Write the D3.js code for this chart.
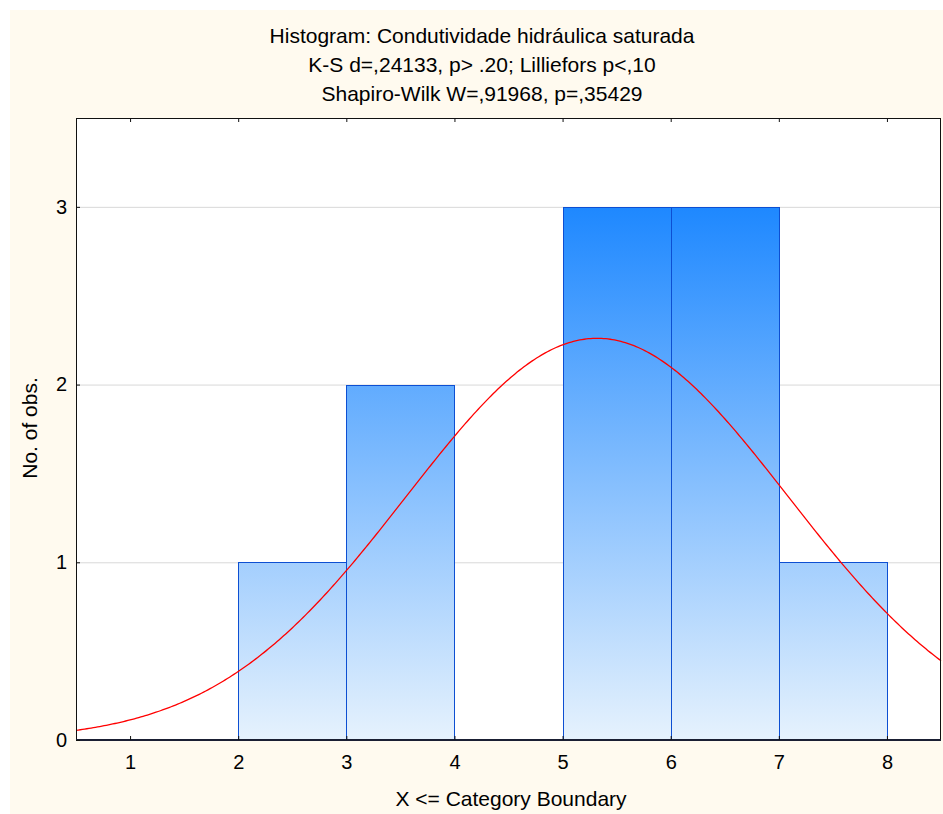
<!DOCTYPE html>
<html>
<head>
<meta charset="utf-8">
<script src="https://cdn.jsdelivr.net/npm/d3@7"></script>
<style>
  body { margin: 0; background: #fff; }
  svg { display: block; font-family: "Liberation Sans", Arial, sans-serif; }
</style>
</head>
<body>
<div id="chart"></div>
<script>
const width = 943;
const height = 814;
const margin = { top: 118, right: 2, bottom: 74, left: 76 };

// Histogram data: upper category boundaries and counts
const boundaries = [1, 2, 3, 4, 5, 6, 7, 8];
const counts = [0, 0, 1, 2, 0, 3, 3, 1]; // count for (b-1, b]
const xTicks = [1, 2, 3, 4, 5, 6, 7, 8];
const yTicks = [0, 1, 2, 3];
const titleLines = [
  "Histogram: Condutividade hidráulica saturada",
  "K-S d=,24133, p> .20; Lilliefors p<,10",
  "Shapiro-Wilk W=,91968, p=,35429"
];

// fitted normal (expected counts)
const fitMean = 5.32;
const fitSd = 1.765;
const nObs = 10;

const svg = d3.select("#chart")
  .append("svg")
  .attr("width", width)
  .attr("height", height);

// cream frame
svg.append("rect")
  .attr("x", 10).attr("y", 10)
  .attr("width", width - 10).attr("height", height - 10)
  .attr("fill", "#fffaef");

const x = d3.scaleLinear()
  .domain([0.5, 8.5])
  .range([margin.left, width - margin.right]);

const y = d3.scaleLinear()
  .domain([0, 3.5])
  .range([height - margin.bottom, margin.top]);

// plot area
svg.append("rect")
  .attr("x", x(0.5)).attr("y", y(3.5))
  .attr("width", x(8.5) - x(0.5))
  .attr("height", y(0) - y(3.5))
  .attr("fill", "#fff");

// gradient for bars
const grad = svg.append("defs").append("linearGradient")
  .attr("id", "barGrad")
  .attr("gradientUnits", "userSpaceOnUse")
  .attr("x1", 0).attr("x2", 0)
  .attr("y1", y(0)).attr("y2", y(3));
grad.append("stop").attr("offset", "0%").attr("stop-color", "#e6f2fd");
grad.append("stop").attr("offset", "100%").attr("stop-color", "#1e88ff");

// grid lines
svg.append("g")
  .selectAll("line")
  .data(yTicks.filter(d => d > 0))
  .join("line")
  .attr("x1", x(0.5)).attr("x2", x(8.5))
  .attr("y1", d => y(d) + 0.5).attr("y2", d => y(d) + 0.5)
  .attr("stroke", "#d9d9d9")
  .attr("stroke-width", 1);

// bars
const bins = boundaries.map((b, i) => ({ x0: b - 1, x1: b, n: counts[i] }))
  .filter(d => d.n > 0);

svg.append("g")
  .selectAll("rect")
  .data(bins)
  .join("rect")
  .attr("x", d => Math.round(x(d.x0)) + 0.5)
  .attr("y", d => Math.round(y(d.n)) + 0.5)
  .attr("width", d => Math.round(x(d.x1)) - Math.round(x(d.x0)))
  .attr("height", d => Math.round(y(0)) - Math.round(y(d.n)))
  .attr("fill", "url(#barGrad)")
  .attr("stroke", "#0d4fd2")
  .attr("stroke-width", 1);

// normal curve
const curveX = d3.range(0.5, 8.5001, 0.02);
const expected = t => nObs * 1 / (fitSd * Math.sqrt(2 * Math.PI)) *
  Math.exp(-0.5 * Math.pow((t - fitMean) / fitSd, 2));

svg.append("path")
  .datum(curveX)
  .attr("fill", "none")
  .attr("stroke", "#ff0000")
  .attr("stroke-width", 1.3)
  .attr("d", d3.line().x(d => x(d)).y(d => y(expected(d))));

// plot border
svg.append("rect")
  .attr("x", x(0.5) + 0.5).attr("y", y(3.5) + 0.5)
  .attr("width", x(8.5) - x(0.5) - 1)
  .attr("height", y(0) - y(3.5) - 1)
  .attr("fill", "none")
  .attr("stroke", "#111")
  .attr("stroke-width", 1);

// bottom axis line is slightly heavier
svg.append("line")
  .attr("x1", x(0.5)).attr("x2", x(8.5))
  .attr("y1", y(0)).attr("y2", y(0))
  .attr("stroke", "#1a1f33").attr("stroke-width", 2);

// axes (inward ticks)
const xAxis = svg.append("g")
  .attr("transform", `translate(0,${y(0)})`)
  .call(d3.axisBottom(x).tickValues(xTicks).tickSize(-4).tickSizeOuter(0));
xAxis.select(".domain").remove();
xAxis.selectAll("text").attr("font-size", "20px").attr("fill", "#000")
  .attr("dy", "0.71em").attr("y", 15);

const xAxisTop = svg.append("g")
  .attr("transform", `translate(0,${y(3.5)})`)
  .call(d3.axisTop(x).tickValues(xTicks).tickSize(-4).tickSizeOuter(0));
xAxisTop.select(".domain").remove();
xAxisTop.selectAll("text").remove();

const yAxis = svg.append("g")
  .attr("transform", `translate(${x(0.5)},0)`)
  .call(d3.axisLeft(y).tickValues(yTicks).tickFormat(d3.format("d"))
    .tickSize(-4).tickSizeOuter(0));
yAxis.select(".domain").remove();
yAxis.selectAll("text").attr("font-size", "20px").attr("fill", "#000")
  .attr("x", -9);

svg.selectAll(".tick line").attr("stroke", "#111");

// titles
svg.append("g")
  .selectAll("text")
  .data(titleLines)
  .join("text")
  .attr("x", 482)
  .attr("y", (d, i) => 43 + i * 29)
  .attr("text-anchor", "middle")
  .attr("font-size", "21px")
  .attr("fill", "#000")
  .text(d => d);

// axis labels
svg.append("text")
  .attr("x", 511)
  .attr("y", 806)
  .attr("text-anchor", "middle")
  .attr("font-size", "21px")
  .attr("fill", "#000")
  .text("X <= Category Boundary");

svg.append("text")
  .attr("transform", "rotate(-90)")
  .attr("x", -428)
  .attr("y", 37)
  .attr("text-anchor", "middle")
  .attr("font-size", "21px")
  .attr("fill", "#000")
  .text("No. of obs.");
</script>
</body>
</html>
